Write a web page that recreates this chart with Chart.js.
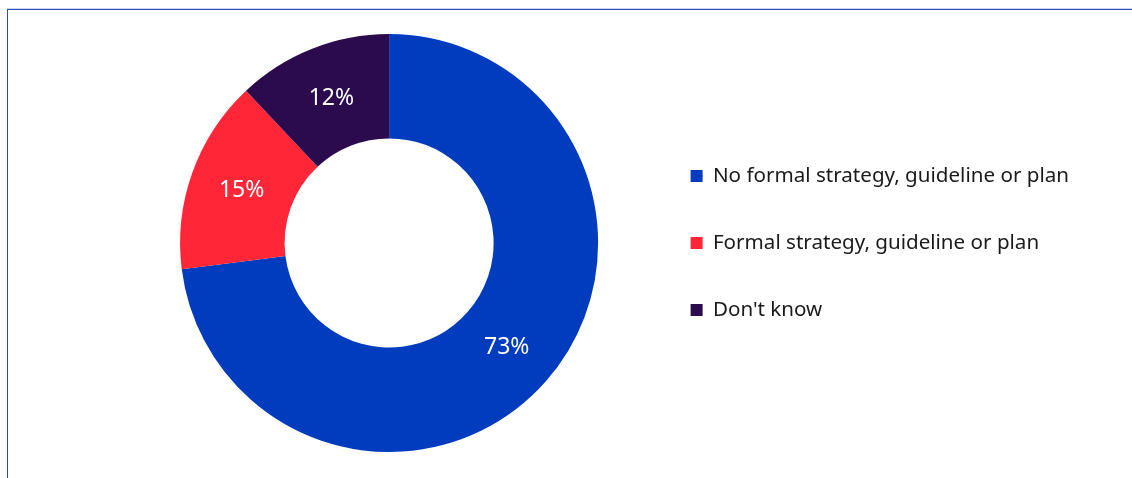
<!DOCTYPE html>
<html>
<head>
    <title>Strategy</title>
    <script src="https://cdn.jsdelivr.net/npm/chart.js"></script>
    <style>
        html, body { margin: 0; padding: 0; background: #fff; }
        body { width: 1132px; height: 478px; position: relative; overflow: hidden; }
        #topline { position: absolute; left: 7px; top: 8px; width: 1125px; height: 1px; background: #c9d5f1; }
        #frame { position: absolute; left: 7px; top: 9px; width: 1125px; height: 469px;
                 border-top: 1px solid #2a4cbc; border-left: 1px solid #2a4cbc; box-sizing: border-box; }
        #wrap { position: absolute; left: 8px; top: 10px; width: 1124px; height: 468px; }
    </style>
</head>
<body>
    <div id="topline"></div>
    <div id="frame"></div>
    <div id="wrap"><canvas id="strategyChart"></canvas></div>
    <script>
        const categories = ["No formal strategy, guideline or plan", "Formal strategy, guideline or plan", "Don't know"];
        const shares = [73, 15, 12];
        const colors = ["#003cbd", "#ff2638", "#2b0a4d"];

        // white percentage labels at each slice centroid
        const sliceLabels = {
            id: "sliceLabels",
            afterDatasetsDraw(chart) {
                const ctx = chart.ctx;
                const meta = chart.getDatasetMeta(0);
                ctx.save();
                ctx.fillStyle = "#ffffff";
                ctx.font = "23px 'Noto Sans'";
                ctx.textAlign = "center";
                ctx.textBaseline = "middle";
                meta.data.forEach((arc, i) => {
                    const p = arc.tooltipPosition();
                    ctx.fillText(shares[i] + "%", p.x, p.y + 1);
                });
                ctx.restore();
            }
        };

        new Chart(document.getElementById("strategyChart"), {
            type: "doughnut",
            data: {
                labels: categories,
                datasets: [{
                    data: shares,
                    backgroundColor: colors,
                    borderWidth: 0
                }]
            },
            options: {
                responsive: true,
                maintainAspectRatio: false,
                animation: false,
                cutout: "50%",
                layout: { padding: { top: 24, bottom: 26, left: 126, right: 53 } },
                plugins: {
                    tooltip: { enabled: false },
                    legend: {
                        position: "right",
                        labels: {
                            font: { family: "'Noto Sans'", size: 20.6 },
                            color: "#1a1a1a",
                            boxWidth: 12,
                            boxHeight: 12,
                            padding: 46.4
                        }
                    }
                }
            },
            plugins: [sliceLabels]
        });
    </script>
</body>
</html>
